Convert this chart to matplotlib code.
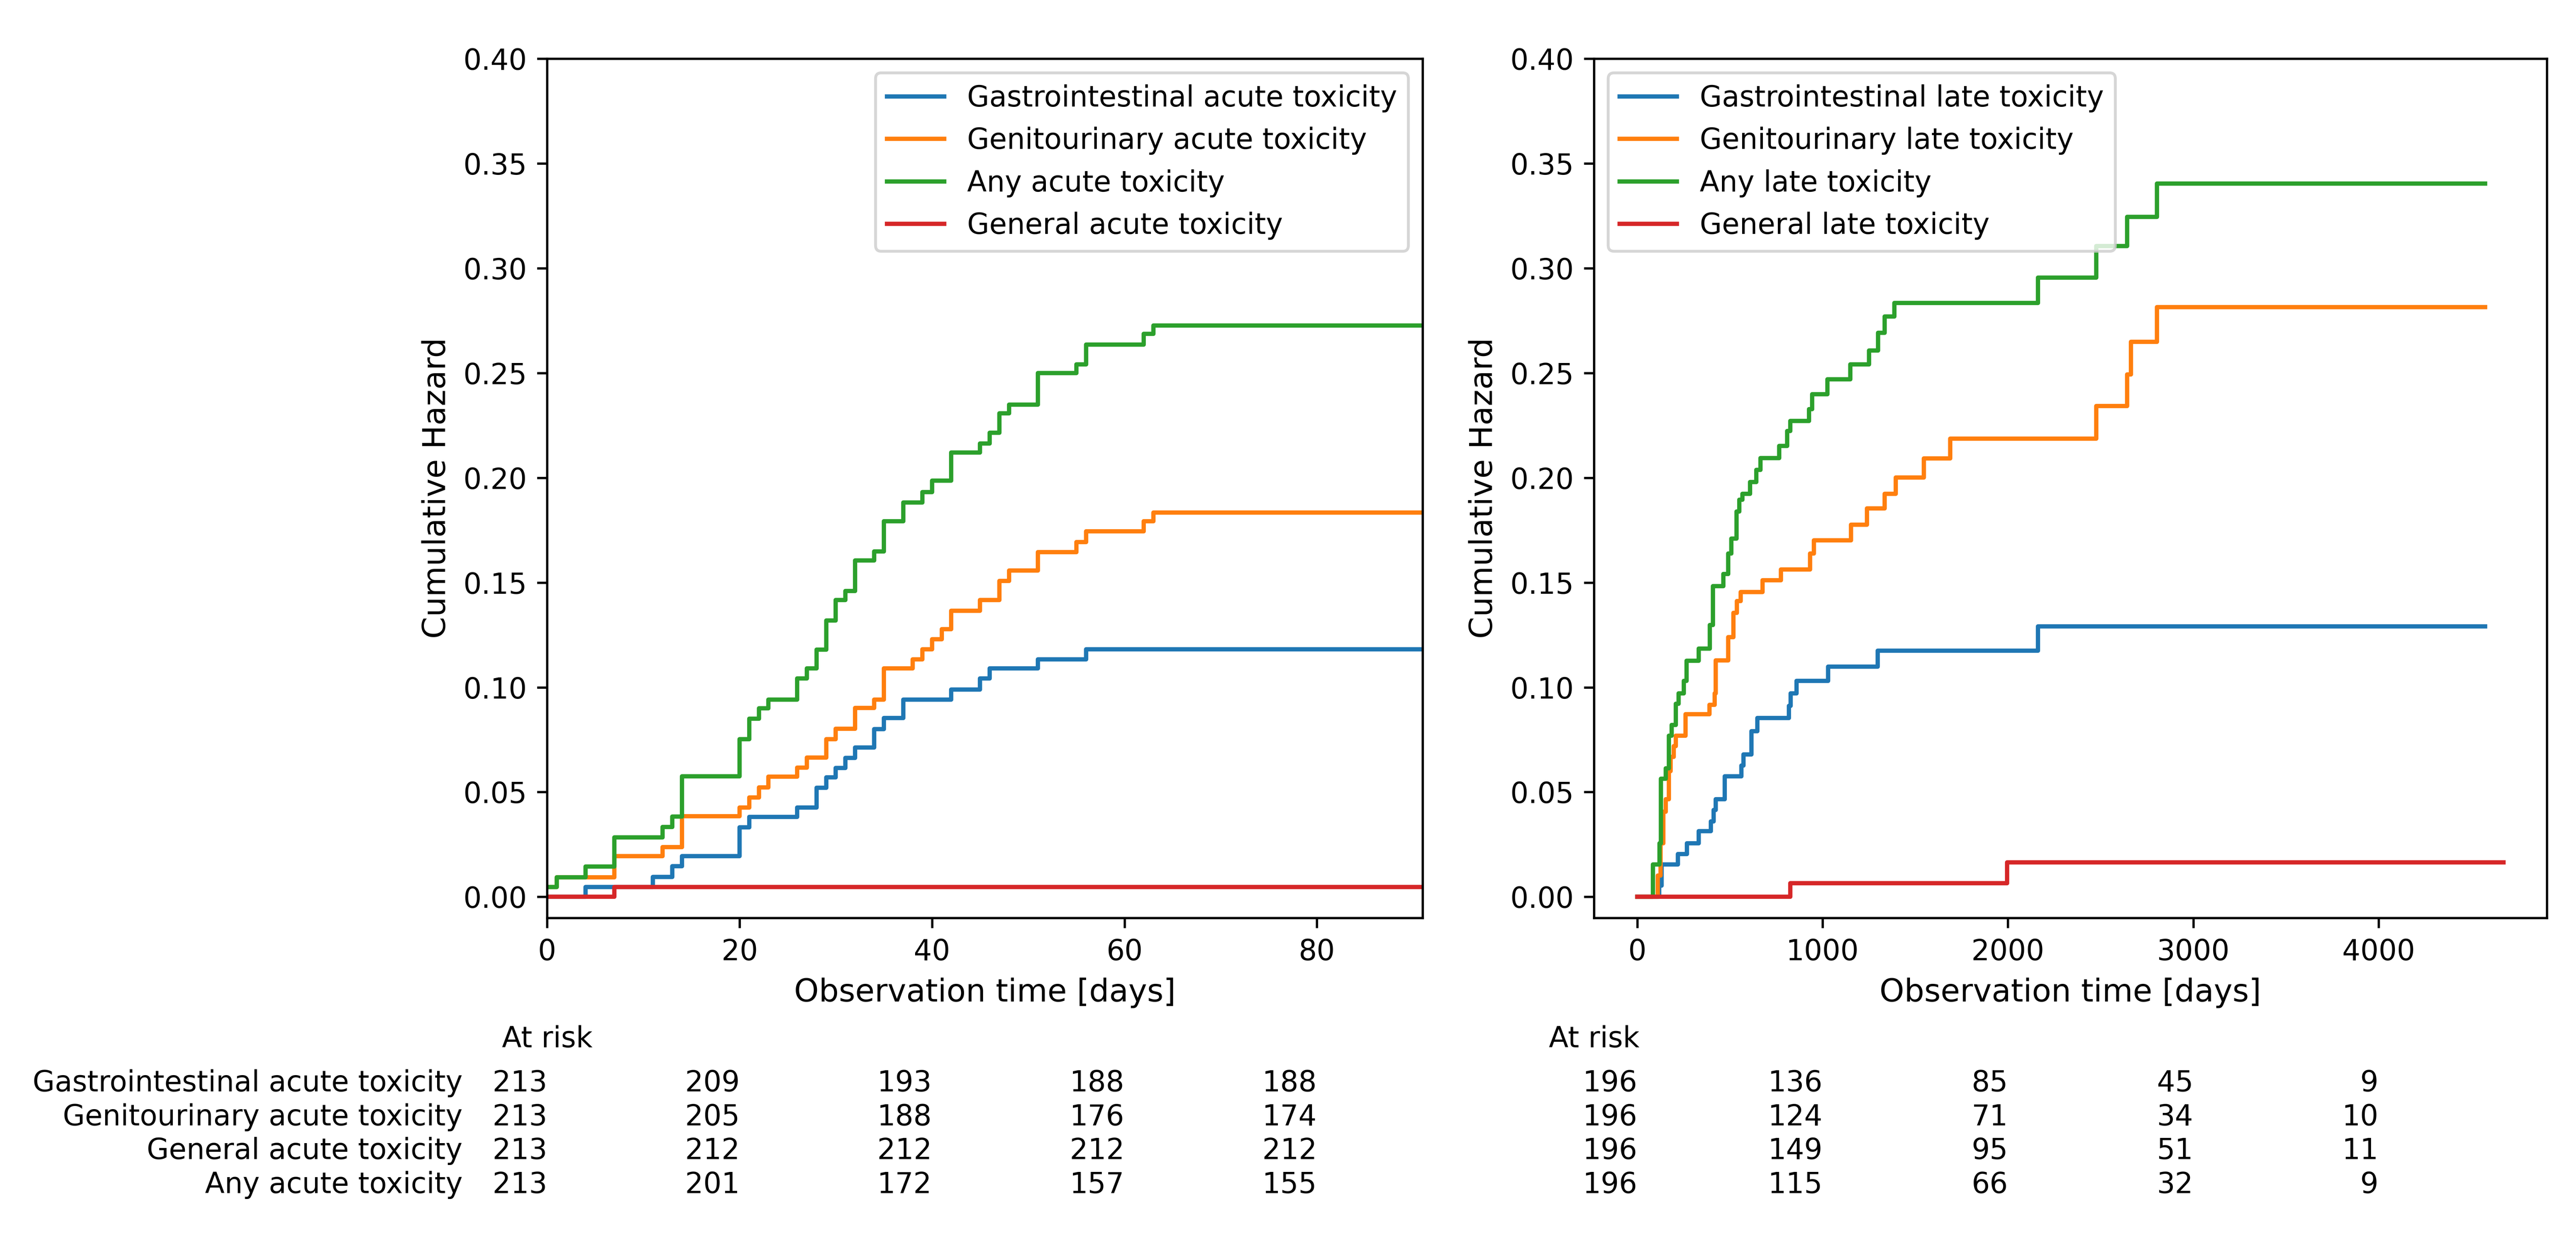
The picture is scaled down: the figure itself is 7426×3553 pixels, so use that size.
import matplotlib
matplotlib.use('Agg')
import matplotlib.pyplot as plt
from matplotlib.transforms import blended_transform_factory

# Acute toxicity (days), cumulative hazard after each step
gi_acute_t = [0, 4, 11, 13, 14, 20, 21, 26, 28, 29, 30, 31, 32, 34, 35, 37, 42, 45, 46, 51, 56, 91]
gi_acute_h = [0, 0.0047, 0.0095, 0.0147, 0.0194, 0.0332, 0.0382, 0.0426, 0.0521, 0.0571, 0.0615,
              0.0663, 0.0712, 0.0801, 0.0853, 0.0942, 0.0990, 0.1042, 0.1090, 0.1133, 0.1181, 0.1181]
gu_acute_t = [0, 1, 7, 12, 14, 20, 21, 22, 23, 26, 27, 29, 30, 32, 34, 35, 38, 39, 40, 41, 42, 45,
              47, 48, 51, 55, 56, 62, 63, 91]
gu_acute_h = [0.0047, 0.0094, 0.0194, 0.0237, 0.0385, 0.0426, 0.0474, 0.0522, 0.0573, 0.0617, 0.0665,
              0.0753, 0.0802, 0.0902, 0.0942, 0.1090, 0.1133, 0.1181, 0.1229, 0.1278, 0.1366, 0.1417,
              0.1508, 0.1557, 0.1645, 0.1693, 0.1744, 0.1793, 0.1833, 0.1833]
any_acute_t = [0, 1, 4, 7, 12, 13, 14, 20, 21, 22, 23, 26, 27, 28, 29, 30, 31, 32, 34, 35, 37, 39,
               40, 42, 45, 46, 47, 48, 51, 55, 56, 62, 63, 91]
any_acute_h = [0.0047, 0.0094, 0.0144, 0.0284, 0.0333, 0.0384, 0.0575, 0.0753, 0.0851, 0.0900, 0.0942,
               0.1042, 0.1090, 0.1180, 0.1318, 0.1417, 0.1460, 0.1605, 0.1648, 0.1793, 0.1881, 0.1932,
               0.1986, 0.2120, 0.2163, 0.2214, 0.2308, 0.2348, 0.2499, 0.2541, 0.2635, 0.2686, 0.2726,
               0.2726]
gen_acute_t = [0, 7, 91]
gen_acute_h = [0, 0.0047, 0.0047]

# Late toxicity (days)
gi_late_t = [0, 117, 131, 219, 267, 331, 396, 412, 423, 471, 562, 573, 616, 648, 818, 828, 860,
             1029, 1297, 2162, 4575]
gi_late_h = [0, 0.0053, 0.0154, 0.0205, 0.0255, 0.0314, 0.0360, 0.0415, 0.0466, 0.0575, 0.0626,
             0.0680, 0.0790, 0.0853, 0.0912, 0.0971, 0.1031, 0.1098, 0.1175, 0.1290, 0.1290]
gu_late_t = [0, 110, 125, 140, 154, 170, 180, 196, 207, 261, 390, 417, 423, 491, 518, 538, 558,
             675, 775, 932, 953, 1153, 1240, 1334, 1394, 1547, 1688, 2477, 2644, 2664, 2804, 4575]
gu_late_h = [0, 0.0102, 0.0255, 0.0407, 0.0466, 0.0601, 0.0668, 0.0719, 0.0769, 0.0871, 0.0917,
             0.0971, 0.1128, 0.1240, 0.1355, 0.1411, 0.1454, 0.1511, 0.1562, 0.1639, 0.1702, 0.1776,
             0.1853, 0.1924, 0.2001, 0.2092, 0.2186, 0.2342, 0.2493, 0.2649, 0.2814, 0.2814]
any_late_t = [0, 84, 120, 127, 154, 170, 186, 207, 223, 250, 266, 331, 391, 408, 465, 491, 508,
              535, 551, 568, 608, 642, 665, 765, 809, 826, 926, 943, 1026, 1150, 1250, 1300, 1334,
              1387, 2162, 2477, 2644, 2804, 4575]
any_late_h = [0, 0.0154, 0.0255, 0.0563, 0.0613, 0.0769, 0.0820, 0.0921, 0.0971, 0.1031, 0.1127,
              0.1184, 0.1298, 0.1483, 0.1540, 0.1639, 0.1710, 0.1838, 0.1895, 0.1924, 0.1980, 0.2038,
              0.2094, 0.2151, 0.2223, 0.2271, 0.2328, 0.2399, 0.2470, 0.2541, 0.2607, 0.2692, 0.2769,
              0.2834, 0.2954, 0.3105, 0.3244, 0.3404, 0.3404]
gen_late_t = [0, 825, 1995, 4675]
gen_late_h = [0, 0.0065, 0.0165, 0.0165]

acute_ticks = [0, 20, 40, 60, 80]
late_ticks = [0, 1000, 2000, 3000, 4000]

acute_rows = ['Gastrointestinal acute toxicity', 'Genitourinary acute toxicity',
              'General acute toxicity', 'Any acute toxicity']
acute_at_risk = [[213, 209, 193, 188, 188],
                 [213, 205, 188, 176, 174],
                 [213, 212, 212, 212, 212],
                 [213, 201, 172, 157, 155]]
late_at_risk = [[196, 136, 85, 45, 9],
                [196, 124, 71, 34, 10],
                [196, 149, 95, 51, 11],
                [196, 115, 66, 32, 9]]


def add_at_risk(ax, ticks, counts, rows=None):
    # number at risk printed under the x axis, right aligned on the ticks
    trans = blended_transform_factory(ax.transData, ax.transAxes)
    ax.text(0, -0.1506, 'At risk', transform=ax.transAxes, ha='center', va='baseline')
    for i, row in enumerate(counts):
        y = -0.2019 - i * 0.0395
        for tick, n in zip(ticks, row):
            ax.text(tick, y, str(n), transform=trans, ha='right', va='baseline')
        if rows is not None:
            ax.text(-0.0965, y, rows[i], transform=ax.transAxes, ha='right', va='baseline')


DPI = 594
fig = plt.figure(figsize=(7426 / DPI, 3553 / DPI), dpi=DPI)
ax1 = fig.add_axes([0.2124, 0.2556, 0.3399, 0.6969])
ax2 = fig.add_axes([0.6188, 0.2556, 0.3699, 0.6969])

ax1.step(gi_acute_t, gi_acute_h, where='post', lw=1.5, label='Gastrointestinal acute toxicity')
ax1.step(gu_acute_t, gu_acute_h, where='post', lw=1.5, label='Genitourinary acute toxicity')
ax1.step(any_acute_t, any_acute_h, where='post', lw=1.5, label='Any acute toxicity')
ax1.step(gen_acute_t, gen_acute_h, where='post', lw=1.5, label='General acute toxicity')
ax1.set_xlim(0, 91)
ax1.set_ylim(-0.01, 0.40)
ax1.set_xticks(acute_ticks)
ax1.set_xlabel('Observation time [days]', fontsize=11)
ax1.set_ylabel('Cumulative Hazard', fontsize=11)
ax1.legend(loc='upper right')
add_at_risk(ax1, acute_ticks, acute_at_risk, acute_rows)

ax2.step(gi_late_t, gi_late_h, where='post', lw=1.5, label='Gastrointestinal late toxicity')
ax2.step(gu_late_t, gu_late_h, where='post', lw=1.5, label='Genitourinary late toxicity')
ax2.step(any_late_t, any_late_h, where='post', lw=1.5, label='Any late toxicity')
ax2.step(gen_late_t, gen_late_h, where='post', lw=1.5, label='General late toxicity')
ax2.set_ylim(-0.01, 0.40)
ax2.set_xticks(late_ticks)
ax2.set_xlabel('Observation time [days]', fontsize=11)
ax2.set_ylabel('Cumulative Hazard', fontsize=11)
ax2.legend(loc='upper left')
add_at_risk(ax2, late_ticks, late_at_risk)

fig.savefig('out.png', dpi=DPI)
